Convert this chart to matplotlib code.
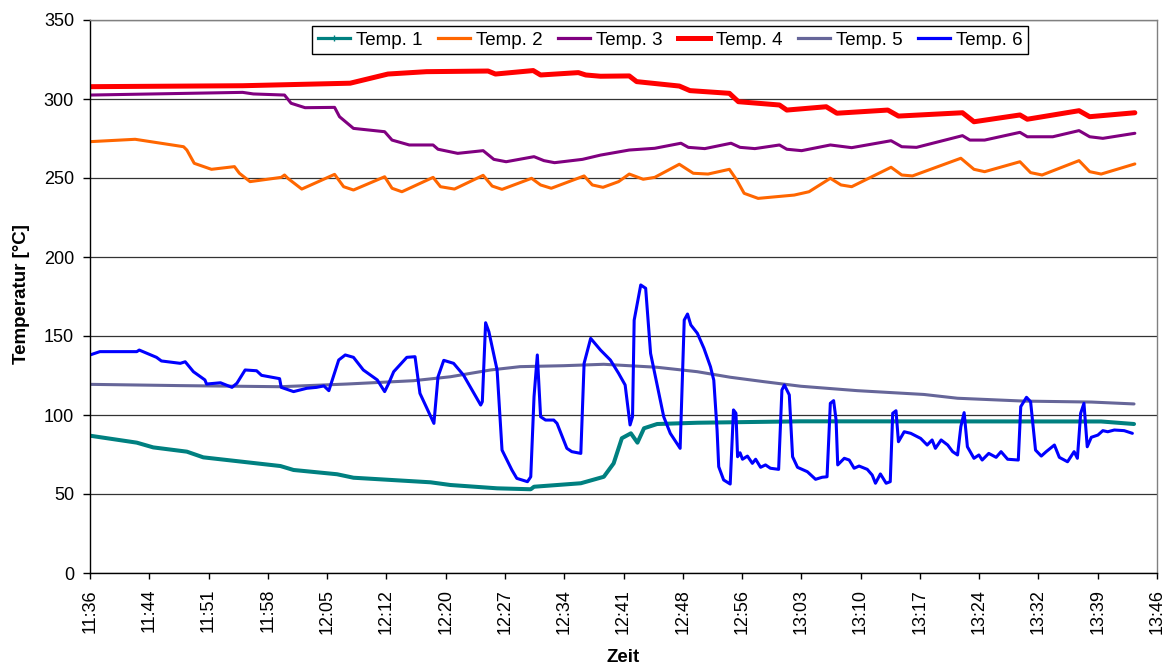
import matplotlib
matplotlib.use("Agg")
import matplotlib.pyplot as plt
from matplotlib.lines import Line2D
import numpy as np

plt.rcParams['font.family'] = ['Liberation Sans', 'DejaVu Sans']

# ---- data (time in minutes after 11:36, temperature in degC) ----
series_names = ["Temp. 1", "Temp. 2", "Temp. 3", "Temp. 4", "Temp. 5", "Temp. 6"]

t1 = [0, 5.7, 7.7, 11.8, 13.8, 23.2, 24.8, 30.1, 32.1, 41.5, 43.9, 49.6, 53.7, 54.1, 59.8,
      62.6, 63.8, 64.8, 65.9, 66.7, 67.5, 69.1, 74, 86.6, 123.2, 127.2]
v1 = [86.9, 82.5, 79.5, 76.8, 73.2, 67.7, 65.2, 62.5, 60.3, 57.4, 55.7, 53.6, 53.0, 54.6, 56.8,
      60.9, 69.4, 85.3, 88.4, 82.5, 91.6, 94.3, 95.1, 96.0, 95.9, 94.3]

t2 = [0, 5.5, 11.4, 11.8, 12.7, 14.8, 17.6, 18.2, 19.5, 23.3, 23.7, 24.1, 25.8, 29.8, 30.9,
      32.1, 35.9, 36.8, 38.0, 41.8, 42.7, 44.4, 47.9, 49.0, 50.2, 53.8, 54.9, 56.2, 60.2, 61.2,
      62.5, 64.4, 65.7, 67.4, 68.8, 71.8, 73.5, 75.3, 77.9, 78.8, 79.7, 81.4, 85.8, 87.6, 90.2,
      91.5, 92.8, 97.6, 98.9, 100.2, 106.1, 107.7, 109.0, 113.3, 114.6, 116.0, 120.5, 121.8, 123.2, 127.3]
v2 = [273, 274.5, 269.8, 267.7, 259.3, 255.5, 257.2, 253, 247.7, 250.4, 251.9, 249.8, 243, 252.3, 244.5,
      242.4, 250.8, 243.5, 241.3, 250.4, 244.5, 243, 251.7, 244.9, 242.8, 249.8, 245.6, 243.5, 251.3, 245.6,
      244.1, 247.7, 252.5, 249.2, 250.4, 258.7, 253, 252.5, 255.5, 248.7, 240.3, 237.1, 239.2, 241.3, 249.8,
      245.6, 244.5, 256.8, 251.9, 251.3, 262.5, 255.5, 254, 260.3, 253.4, 251.9, 261, 254, 252.5, 258.9]

t3 = [0, 18.6, 19.9, 23.7, 24.5, 26.2, 29.8, 30.4, 32.1, 35.9, 36.8, 38.9, 41.8, 42.4, 44.8,
      47.9, 49.2, 50.7, 54.1, 55.3, 56.6, 60.0, 62.2, 65.7, 68.8, 72.0, 72.9, 74.9, 78.1, 79.2,
      81.0, 84.0, 84.9, 86.7, 90.2, 92.8, 97.6, 98.9, 100.7, 106.3, 107.2, 109.0, 113.3, 114.2, 117.3,
      120.5, 121.8, 123.4, 127.3]
v3 = [302.5, 304.2, 303.2, 302.5, 297.3, 294.5, 294.7, 288.8, 281.4, 279.3, 274, 270.9, 270.9, 268.2, 265.6,
      267.3, 261.8, 260.3, 263.5, 261, 259.7, 261.8, 264.5, 267.7, 268.8, 272, 269.4, 268.6, 272, 269.4,
      268.6, 270.9, 268.2, 267.3, 270.9, 269.2, 273.6, 269.8, 269.4, 276.8, 274, 274, 278.9, 276.1, 276.1,
      280, 276.1, 275.1, 278.3]

t4 = [0, 18.6, 31.7, 36.3, 41.0, 48.5, 49.4, 54.0, 54.9, 59.5, 60.4, 62.2, 65.7, 66.6, 71.8,
      73.1, 77.9, 79.0, 84.0, 84.9, 89.7, 91.0, 97.2, 98.5, 106.3, 107.7, 113.3, 114.2, 120.5, 121.8, 127.3]
v4 = [307.8, 308.4, 310, 315.8, 317.3, 317.7, 315.8, 318, 315.2, 316.7, 315.2, 314.4, 314.6, 311, 308.2,
      305.3, 303.6, 298.3, 296.2, 293, 295.1, 291, 293, 289.2, 291.3, 285.6, 289.9, 287.2, 292.6, 288.8, 291.3]

t5 = [0, 11, 23.2, 31.3, 39.4, 43.9, 48.8, 52.4, 57.7, 62.6, 69.1, 74, 78, 82.1, 86.6,
      93.5, 101.6, 105.7, 113.8, 122, 127.2]
v5 = [119.4, 118.6, 117.9, 119.6, 121.7, 124.2, 128.5, 130.6, 131.2, 132.1, 130.2, 127.4, 123.9, 121.1, 118.2,
      115.4, 113.0, 110.6, 108.8, 108.2, 107]

t6 = [0, 1.2, 5.7, 6, 8.1, 8.7, 11, 11.6, 12.6, 14, 14.2, 15.9, 17.3, 17.9, 18.9, 20.3, 20.9, 23.1, 23.3,
      24.8, 26.4, 27.6, 28.5, 29.1, 30.3, 31.1, 32.1, 33.3, 35, 35.9, 36.4, 37, 38.6, 39.6, 40.2, 41.9,
      42.4, 43.1, 44.3, 45.5, 47.6, 47.8, 48.2, 48.6, 49.6, 50.2, 51.4, 52, 53.3, 53.7, 54.1, 54.5, 54.9,
      55.5, 56.5, 56.9, 58.1, 58.7, 59.8, 60.2, 61, 62.2, 63.4, 64.4, 65.2, 65.8, 66.1, 66.3, 67.1, 67.7,
      68.3, 69.9, 70.7, 71.9, 72.4, 72.8, 73.2, 74, 74.8, 75.6, 76.0, 76.4, 76.6, 77.2, 78.0, 78.4, 78.7,
      78.9, 79.2, 79.5, 80.1, 80.7, 81.1, 81.7, 82.3, 82.9, 83.9, 84.3, 84.6, 85.2, 85.6, 86.2, 87.4, 88.4,
      89.2, 89.8, 90.2, 90.6, 90.9, 91.1, 91.9, 92.5, 93.1, 93.7, 94.7, 95.3, 95.7, 96.3, 97.0, 97.5, 97.8,
      98.2, 98.5, 99.2, 100.0, 101.2, 102.0, 102.6, 103.0, 103.7, 104.5, 105.1, 105.7, 106.1, 106.5, 106.9,
      107.7, 108.3, 108.7, 109.5, 110.4, 111.0, 111.8, 113.1, 113.4, 114.1, 114.6, 115.2, 115.9, 116.5,
      117.5, 118.1, 119.1, 119.9, 120.3, 120.7, 121.1, 121.5, 122.0, 122.8, 123.4, 124.0, 124.8, 126.0, 127.0]
v6 = [138, 140.1, 140.1, 141.1, 136.5, 134.2, 132.7, 133.7, 127.4, 122.2, 119.6, 120.4, 117.5, 120.1, 128.5,
      128, 125.1, 123, 117.5, 114.8, 116.9, 117.5, 118.4, 115.4, 134.8, 138, 136.5, 128.5, 122.2, 114.8,
      120.1, 127.4, 136.5, 136.9, 113.7, 94.7, 124.2, 134.6, 132.7, 125.3, 106.3, 108.4, 158.4, 152.7, 128.5,
      77.8, 65.2, 59.9, 57.8, 60.9, 111.6, 138, 98.9, 96.8, 96.8, 94.7, 78.9, 76.8, 75.7, 132.7, 148.5,
      141.1, 134.8, 126.4, 119, 93.7, 98.9, 160, 182.3, 180.2, 139, 98.9, 88.4, 78.9, 160.1, 163.9, 157,
      151.7, 142.2, 130.5, 122, 90.5, 67.3, 58.9, 56.3, 103.2, 101.1,
      73.6, 76.1, 72, 74, 69.4, 72, 66.9, 68.4, 66.3, 65.6, 115.8, 119, 112.7, 73.6, 66.9, 64.1, 59.3,
      60.6, 60.9, 107.4, 109.1, 96.8, 68.4, 72.6, 71.5, 66.3, 67.7, 65.6, 62, 56.8, 62.7, 56.8, 57.8, 101.1,
      102.7, 83.1, 89.4, 88.4, 85.2, 81, 84.2, 78.9, 84.2, 81, 76.8, 74.7, 92.6, 101.5, 79.9,
      72.6, 74.7, 71.5, 75.7, 73.2, 76.8, 72, 71.5, 105.3, 111.2, 108.4, 77.8, 74, 76.8,
      81, 73.2, 70.4, 76.8, 72.6, 101.1, 107.4, 79.9, 85.9, 87.3, 90.1, 89.4, 90.5, 90.1, 88.4]

x_tick_labels = ["11:36", "11:44", "11:51", "11:58", "12:05", "12:12", "12:20", "12:27", "12:34",
                 "12:41", "12:48", "12:56", "13:03", "13:10", "13:17", "13:24", "13:32", "13:39", "13:46"]
y_ticks = [0, 50, 100, 150, 200, 250, 300, 350]
x_span = 130  # minutes shown on the axis

# ---- styling ----
colors = ["#008080", "#FF6600", "#800080", "#FF0000", "#666699", "#0000FF"]
widths = [2.9, 2.2, 2.2, 3.6, 2.2, 2.2]

W, H = 1169, 668
fig = plt.figure(figsize=(W / 100, H / 100), dpi=100)
L, R, T, B = 90, 1157, 20, 573
ax = fig.add_axes([L / W, 1 - B / H, (R - L) / W, (B - T) / H])

data = [(t1, v1), (t2, v2), (t3, v3), (t4, v4), (t5, v5), (t6, v6)]
for (t, v), c, lw, name in zip(data, colors, widths, series_names):
    ax.plot(t, v, color=c, lw=lw, label=name, solid_joinstyle='round', solid_capstyle='round')

ax.set_xlim(0, x_span)
ax.set_ylim(0, 350)
ax.set_yticks(y_ticks)
ax.set_xticks(np.linspace(0, x_span, len(x_tick_labels)))
ax.set_xticklabels(x_tick_labels, rotation=90)
ax.yaxis.grid(True, color='#333333', lw=0.9)
ax.set_axisbelow(True)

for s in ['left', 'bottom']:
    ax.spines[s].set_color('black')
    ax.spines[s].set_linewidth(1.0)
for s in ['top', 'right']:
    ax.spines[s].set_color('#808080')
    ax.spines[s].set_linewidth(1.0)

ax.tick_params(axis='y', direction='out', length=5, width=1, pad=6.5, labelsize=13)
ax.tick_params(axis='x', direction='out', length=4.5, width=1, pad=7, labelsize=13)

fig.text(22 / W, 1 - 294 / H, "Temperatur [°C]", rotation=90, ha='center', va='center',
         fontsize=13.5, fontweight='bold')
fig.text(623 / W, 1 - 658 / H, "Zeit", ha='center', va='center', fontsize=13.5, fontweight='bold')

handles = []
for c, name in zip(colors, series_names):
    hw = 3.6 if name == "Temp. 4" else 2.3
    if name == "Temp. 1":
        handles.append(Line2D([], [], color=c, lw=hw, marker='|', markersize=5, mew=1.0))
    else:
        handles.append(Line2D([], [], color=c, lw=hw))
leg = ax.legend(handles, series_names, loc='upper left',
                bbox_to_anchor=((312 - L) / (R - L), (B - 26) / (B - T)),
                ncol=6, fontsize=13.5, frameon=True, fancybox=False, framealpha=1,
                edgecolor='black', handlelength=1.75, handletextpad=0.3, columnspacing=0.8,
                borderpad=0.3, borderaxespad=0)
leg.get_frame().set_linewidth(1.0)

fig.savefig("out.png", dpi=100)
